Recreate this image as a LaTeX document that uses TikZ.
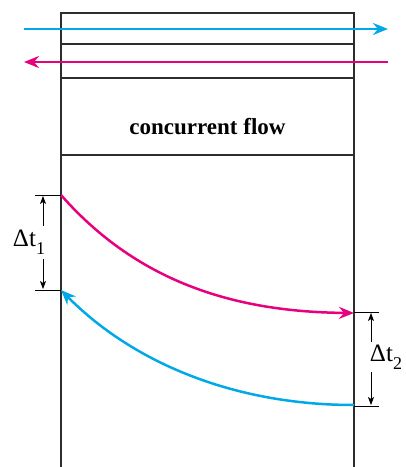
\documentclass[tikz,border=0pt]{standalone}
\usepackage{fontspec}
\setmainfont{Liberation Serif}
\usetikzlibrary{arrows.meta}
\definecolor{cyanflow}{RGB}{0,168,230}
\definecolor{magflow}{RGB}{230,0,126}
\definecolor{framegray}{RGB}{45,45,45}
\tikzset{
  frameline/.style={draw=framegray, line width=2.6pt},
  flowarrow/.style={line width=2.5pt, -{Stealth[length=15pt,width=12pt,inset=5pt]}},
  tickline/.style={draw=black, line width=0.8pt},
  dimarrow/.style={draw=black, line width=0.8pt, -{Stealth[length=8pt,width=6pt,inset=2pt]}},
  dlabel/.style={font=\fontsize{25}{27}\selectfont, inner sep=0pt}
}
\begin{document}
\begin{tikzpicture}[x=1pt,y=-1pt]
\useasboundingbox (0,0) rectangle (406,467);
% frame
\draw[frameline] (61,468) -- (61,13) -- (354,13) -- (354,468);
\draw[frameline] (61,44) -- (354,44);
\draw[frameline] (61,78) -- (354,78);
\draw[frameline] (61,155) -- (354,155);
\node[font=\fontsize{23}{26}\selectfont\bfseries, inner sep=0pt] (cf) at (207.5,127) {concurrent flow};
% horizontal flows
\coordinate (cl) at (24,29);
\coordinate (cr) at (388,29);
\coordinate (ml) at (24,62);
\coordinate (mr) at (388,62);
\draw[flowarrow, cyanflow] (cl) -- (cr);
\draw[flowarrow, magflow] (mr) -- (ml);
% curves
\coordinate (m0) at (61,195);
\coordinate (m1) at (354,313);
\coordinate (c0) at (354,405);
\coordinate (c1) at (61,290);
\draw[flowarrow, magflow] (m0) .. controls (140,285) and (240,312) .. (m1);
\draw[flowarrow, cyanflow] (c0) .. controls (230,405) and (130,360) .. (c1);
% dt1
\coordinate (t1a) at (35,195);
\coordinate (t1b) at (35,290);
\draw[tickline] (t1a) -- (m0);
\draw[tickline] (t1b) -- (c1);
\node[dlabel] (d1) at (29,242) {Δt\raisebox{-0.3em}{\fontsize{18}{20}\selectfont 1}};
\coordinate (a1t) at (43,226);
\coordinate (a1b) at (43,259);
\draw[dimarrow] (a1t) -- (43,196);
\draw[dimarrow] (a1b) -- (43,289);
% dt2
\coordinate (t2a) at (379,312);
\coordinate (t2b) at (379,406);
\draw[tickline] (m1 |- t2a) -- (t2a);
\draw[tickline] (c0 |- t2b) -- (t2b);
\node[dlabel] (d2) at (386,357) {Δt\raisebox{-0.3em}{\fontsize{18}{20}\selectfont 2}};
\coordinate (a2t) at (371,342);
\coordinate (a2b) at (371,372);
\draw[dimarrow] (a2t) -- (371,313);
\draw[dimarrow] (a2b) -- (371,405);
\end{tikzpicture}
\end{document}
